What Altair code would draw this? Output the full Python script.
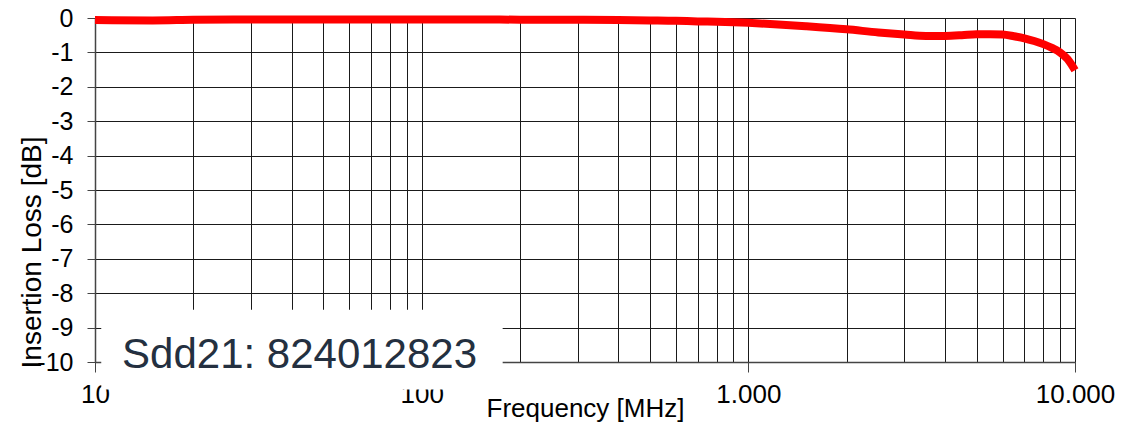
import altair as alt
import pandas as pd

# Curve data (Sdd21 insertion loss)
freq_mhz = [10, 15, 20, 30, 50, 70, 100, 150, 200, 300, 400, 500, 600, 700, 800,
            1000, 1200, 1500, 2000, 2500, 3000, 3500, 4000, 4500, 5000, 5500,
            6000, 6500, 7000, 7500, 8000, 8500, 9000, 9500, 10000]
loss_db = [-0.06, -0.07, -0.05, -0.04, -0.04, -0.04, -0.04, -0.04, -0.05, -0.05,
           -0.06, -0.07, -0.08, -0.1, -0.11, -0.14, -0.18, -0.24, -0.33, -0.42,
           -0.48, -0.52, -0.52, -0.5, -0.47, -0.47, -0.48, -0.53, -0.59, -0.67,
           -0.76, -0.87, -1.0, -1.2, -1.52]

# Axis values
grid_freqs = [10, 20, 30, 40, 50, 60, 70, 80, 90,
              100, 200, 300, 400, 500, 600, 700, 800, 900,
              1000, 2000, 3000, 4000, 5000, 6000, 7000, 8000, 9000, 10000]
y_ticks = [0, -1, -2, -3, -4, -5, -6, -7, -8, -9, -10]

# Annotation box (data coordinates) and label
box_x = [10.45, 177]
box_y = [-8.48, -10.8]
label_text = ["Sdd21: 824012823"]
label_x = [12.1]
label_y = [-10.17]

df = pd.DataFrame({"freq": freq_mhz, "loss": loss_db})
box_df = pd.DataFrame({"x1": [box_x[0]], "x2": [box_x[1]], "y1": [box_y[0]], "y2": [box_y[1]]})
lab_df = pd.DataFrame({"t": label_text, "x": label_x, "y": label_y})

FONT = "Liberation Sans"

xscale = alt.Scale(type="log", domain=[10, 10000], nice=False)
yscale = alt.Scale(domain=[-10, 0], nice=False, zero=False)

decade_test = "indexof([10, 100, 1000, 10000], datum.value) >= 0"

xaxis = alt.Axis(
    values=grid_freqs,
    grid=True, gridColor="#1a1a1a", gridWidth=1, gridOpacity=1,
    domain=True, domainColor="#444444", domainWidth=1.5,
    ticks=True, tickColor="#444444", tickSize=10,
    tickOpacity={"condition": {"test": decade_test, "value": 1}, "value": 0},
    labelExpr="indexof([10, 100, 1000, 10000], datum.value) >= 0 ? replace(format(datum.value, ',.0f'), ',', '.') : ''",
    labelFont=FONT, labelFontSize=26, labelColor="#000000", labelPadding=9,
    labelFlush=False, labelOverlap=False,
    title="Frequency [MHz]", titleFont=FONT, titleFontSize=26, titleFontWeight="normal",
    titleColor="#000000", titleY=46, titleBaseline="middle",
    zindex=0,
)

yaxis = alt.Axis(
    values=y_ticks,
    grid=True, gridColor="#1a1a1a", gridWidth=1, gridOpacity=1,
    domain=True, domainColor="#444444", domainWidth=1.5,
    ticks=True, tickColor="#444444", tickSize=8,
    labelExpr="'' + datum.value",
    labelFont=FONT, labelFontSize=25, labelColor="#000000", labelPadding=14,
    labelFlush=False, labelOverlap=False,
    title="Insertion Loss [dB]", titleFont=FONT, titleFontSize=28, titleFontWeight="normal",
    titleColor="#000000", titleAngle=-90, titleX=-63, titleY=234,
    titleAlign="center", titleBaseline="middle",
    zindex=0,
)

line = alt.Chart(df).mark_line(
    color="#ff0000", strokeWidth=8, interpolate="monotone", strokeCap="butt"
).encode(
    x=alt.X("freq:Q", scale=xscale, axis=xaxis),
    y=alt.Y("loss:Q", scale=yscale, axis=yaxis),
)

box = alt.Chart(box_df).mark_rect(color="#ffffff", opacity=1).encode(
    x=alt.X("x1:Q", scale=xscale, axis=xaxis), x2="x2:Q",
    y=alt.Y("y1:Q", scale=yscale, axis=yaxis), y2="y2:Q",
)

label = alt.Chart(lab_df).mark_text(
    font=FONT, fontSize=42, color="#243040", align="left", baseline="alphabetic"
).encode(
    x=alt.X("x:Q", scale=xscale, axis=xaxis),
    y=alt.Y("y:Q", scale=yscale, axis=yaxis),
    text="t:N",
)

chart = alt.layer(line, box, label).properties(
    width=980, height=344,
    autosize=alt.AutoSizeParams(type="none"),
    padding={"left": 87, "top": 10, "right": 50, "bottom": 75},
).configure_view(stroke=None).configure(background="#ffffff")

chart.save("out.html", embed_options={"renderer": "svg", "actions": False})
